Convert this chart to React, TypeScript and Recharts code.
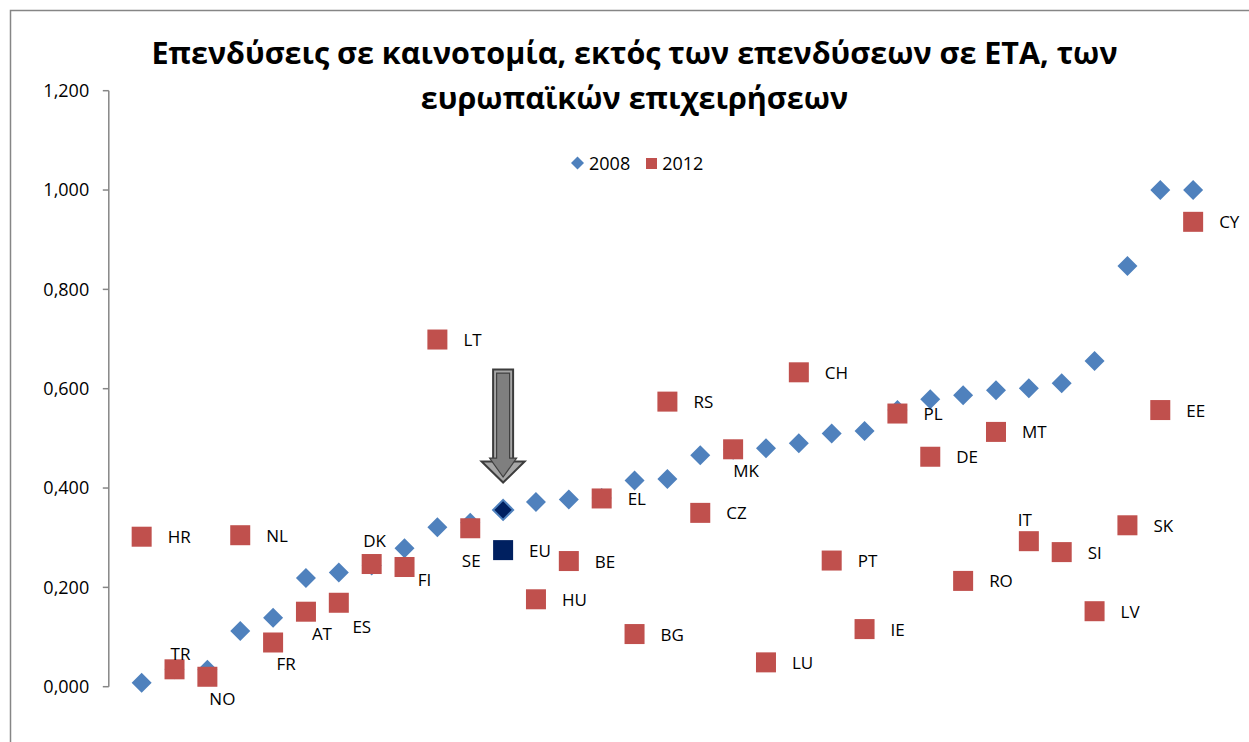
import React from 'react';
import { ScatterChart, Scatter, XAxis, YAxis, ReferenceDot, Legend, Customized } from 'recharts';

const categories = ['HR','TR','NO','NL','FR','AT','ES','DK','FI','LT','SE','EU','HU','BE','EL','BG','RS','CZ','MK','LU','CH','PT','IE','PL','DE','RO','MT','IT','SI','LV','SK','EE','CY'];

const values2008 = [0.008,0.035,0.034,0.112,0.139,0.219,0.230,0.244,0.279,0.321,0.330,0.356,0.372,0.377,0.380,0.415,0.418,0.466,0.477,0.480,0.490,0.510,0.515,0.557,0.579,0.587,0.597,0.601,0.611,0.656,0.847,1.000,1.000];

const values2012 = [0.302,0.035,0.020,0.305,0.089,0.151,0.169,0.247,0.241,0.699,0.319,0.275,0.176,0.253,0.379,0.106,0.574,0.350,0.478,0.049,0.633,0.254,0.116,0.550,0.463,0.213,0.513,0.293,0.271,0.152,0.325,0.557,0.936];

const yTicks = [0, 0.2, 0.4, 0.6, 0.8, 1.0, 1.2];
const seriesNames = ['2008', '2012'];
const titleLines = ['Επενδύσεις σε καινοτομία, εκτός των επενδύσεων σε ΕΤΑ, των', 'ευρωπαϊκών επιχειρήσεων'];
const highlightCategory = 'EU';
const arrowTipValue = 0.411;

// label offsets (centre of text relative to the marker) for labels not placed to the right
const labelOffsets: Record<string, [number, number]> = {
  TR: [6, -16], NO: [15, 22], FR: [13, 21], AT: [16, 22], ES: [23, 24],
  DK: [3, -24], FI: [20, 12], SE: [1, 32], MK: [13, 21], IT: [-4, -22],
};

const FONT = '"Open Sans", "Noto Sans", sans-serif';
const BLUE = '#4F81BD';
const RED = '#C0504D';
const NAVY = '#002060';

const data2008 = categories.map((c, i) => ({ x: i + 1, y: values2008[i], cat: c }));
const data2012 = categories.map((c, i) => ({ x: i + 1, y: values2012[i], cat: c }));

const fmt = (v: number) => v.toFixed(3).replace('.', ',');

const Diamond = (props: any) => {
  const { cx, cy, payload } = props;
  const r = 10;
  const hi = payload && payload.cat === highlightCategory;
  return (
    <polygon
      points={`${cx},${cy - r} ${cx + r},${cy} ${cx},${cy + r} ${cx - r},${cy}`}
      fill={hi ? NAVY : BLUE}
      stroke={hi ? BLUE : 'none'}
      strokeWidth={hi ? 2 : 0}
    />
  );
};

const SquareWithLabel = (props: any) => {
  const { cx, cy, payload } = props;
  const s = 10;
  const hi = payload && payload.cat === highlightCategory;
  const off = labelOffsets[payload.cat];
  return (
    <g>
      <rect x={cx - s} y={cy - s} width={2 * s} height={2 * s} fill={hi ? NAVY : RED} />
      {off ? (
        <text x={cx + off[0]} y={cy + off[1]} textAnchor="middle" dominantBaseline="central" fontFamily={FONT} fontSize={17} fill="#000">{payload.cat}</text>
      ) : (
        <text x={cx + 26} y={cy} textAnchor="start" dominantBaseline="central" fontFamily={FONT} fontSize={17} fill="#000">{payload.cat}</text>
      )}
    </g>
  );
};

const Arrow = (props: any) => {
  const { cx, cy } = props;
  const outer = [
    [cx - 10, cy - 113], [cx + 10, cy - 113], [cx + 10, cy - 21], [cx + 21.5, cy - 21],
    [cx, cy], [cx - 21.5, cy - 21], [cx - 10, cy - 21],
  ];
  const inner = [
    [cx - 6.5, cy - 109.5], [cx + 6.5, cy - 109.5], [cx + 6.5, cy - 24.5], [cx + 13.5, cy - 24.5],
    [cx, cy - 5.5], [cx - 13.5, cy - 24.5], [cx - 6.5, cy - 24.5],
  ];
  const pts = (a: number[][]) => a.map(p => p.join(',')).join(' ');
  return (
    <g>
      <polygon points={pts(outer)} fill="#a6a6a6" stroke="#3c3c3c" strokeWidth={2} />
      <polygon points={pts(inner)} fill="#7f7f7f" stroke="#404040" strokeWidth={1.2} />
    </g>
  );
};

const Frame = () => (
  <g>
    <rect x={10.5} y={10.5} width={1400} height={900} fill="none" stroke="#868686" strokeWidth={1.5} />
    <text x={634.5} y={64.3} textAnchor="middle" fontFamily={FONT} fontWeight="bold" fontSize={30.5} fill="#000">{titleLines[0]}</text>
    <text x={634.5} y={109.3} textAnchor="middle" fontFamily={FONT} fontWeight="bold" fontSize={30.5} fill="#000">{titleLines[1]}</text>
  </g>
);

const LegendContent = () => (
  <div style={{ display: 'flex', alignItems: 'center', fontFamily: FONT, fontSize: 18, color: '#000', height: 26 }}>
    <svg width={13} height={14} style={{ marginRight: 5 }}>
      <polygon points="6.5,0.5 13,7 6.5,13.5 0,7" fill={BLUE} />
    </svg>
    <span style={{ marginRight: 16 }}>{seriesNames[0]}</span>
    <svg width={11} height={11} style={{ marginRight: 5 }}>
      <rect x={0} y={0} width={11} height={11} fill={RED} />
    </svg>
    <span>{seriesNames[1]}</span>
  </div>
);

export default function App() {
  return (
    <div style={{ position: 'absolute', left: 0, top: 0, background: '#fff' }}>
      <ScatterChart width={1249} height={742} margin={{ top: 90.7, right: 23, bottom: 55.3, left: 0 }}>
        <Customized component={Frame} />
        <XAxis type="number" dataKey="x" domain={[0, 34]} hide height={0} />
        <YAxis
          type="number"
          dataKey="y"
          domain={[0, 1.2]}
          ticks={yTicks}
          width={108.8}
          tickFormatter={fmt}
          tickSize={6}
          tickMargin={13.6}
          axisLine={{ stroke: '#868686', strokeWidth: 1.5 }}
          tickLine={{ stroke: '#868686', strokeWidth: 1.5 }}
          tick={{ fill: '#000', fontSize: 18, fontFamily: FONT }}
          interval={0}
        />
        <Legend
          verticalAlign="middle"
          align="center"
          content={<LegendContent />}
          wrapperStyle={{ position: 'absolute', top: 150, left: 571, width: 150, height: 26 }}
        />
        <Scatter name={seriesNames[0]} data={data2008} shape={<Diamond />} isAnimationActive={false} />
        <Scatter name={seriesNames[1]} data={data2012} shape={<SquareWithLabel />} isAnimationActive={false} />
        <ReferenceDot x={12} y={arrowTipValue} shape={<Arrow />} ifOverflow="visible" />
      </ScatterChart>
    </div>
  );
}
